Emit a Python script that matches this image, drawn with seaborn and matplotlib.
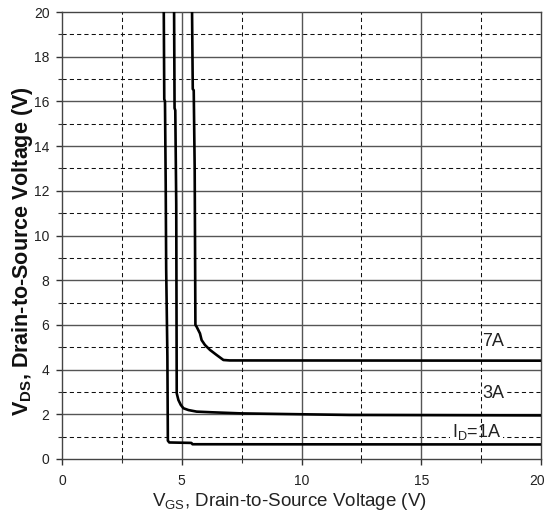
import numpy as np
import pandas as pd
import matplotlib
matplotlib.use("Agg")
import matplotlib.pyplot as plt
import matplotlib.transforms as mtransforms
from matplotlib.ticker import MultipleLocator
import seaborn as sns

# Transfer curves: V_DS versus V_GS for three drain currents
vgs_1a = [4.25, 4.27, 4.30, 4.33, 4.35, 4.40, 4.42, 4.48, 5.40, 5.45, 20.0]
vds_1a = [20.0, 16.1, 16.0, 12.3, 8.5, 4.6, 0.82, 0.74, 0.72, 0.66, 0.65]

vgs_3a = [4.68, 4.70, 4.73, 4.77, 4.79, 4.86, 4.96, 5.07, 5.28, 5.62, 6.25, 7.5, 12.0, 20.0]
vds_3a = [20.0, 15.7, 15.6, 11.4, 2.94, 2.64, 2.42, 2.27, 2.19, 2.12, 2.09, 2.04, 1.97, 1.95]

vgs_7a = [5.43, 5.46, 5.50, 5.54, 5.57, 5.62, 5.76, 5.83, 5.97, 6.18, 6.46, 6.74, 7.0, 20.0]
vds_7a = [20.0, 16.55, 16.5, 13.0, 6.0, 5.92, 5.62, 5.32, 5.1, 4.88, 4.65, 4.43, 4.41, 4.40]

currents = ["1A", "3A", "7A"]
curve_labels = ["I$_\\mathregular{D}$=1A", "3A", "7A"]
label_x = [17.3, 18.0, 18.0]
label_y = [1.22, 2.93, 5.25]

x_ticks = [0, 5, 10, 15, 20]
y_ticks = [0, 2, 4, 6, 8, 10, 12, 14, 16, 18, 20]

frames = []
for cur, xs, ys in zip(currents, [vgs_1a, vgs_3a, vgs_7a], [vds_1a, vds_3a, vds_7a]):
    frames.append(pd.DataFrame({"Vgs": xs, "Vds": ys, "Id": cur}))
df = pd.concat(frames, ignore_index=True)

sns.set_style("ticks")
plt.rcParams["font.family"] = ["Liberation Sans", "DejaVu Sans"]
plt.rcParams["mathtext.fontset"] = "custom"
plt.rcParams["mathtext.rm"] = "Liberation Sans"
plt.rcParams["mathtext.it"] = "Liberation Sans:italic"
plt.rcParams["mathtext.bf"] = "Liberation Sans:bold"

fig = plt.figure(figsize=(5.46, 5.21), dpi=100)
ax = fig.add_axes([62 / 546, 62 / 521, 479 / 546, 447 / 521])

# grid: solid majors, dashed minors
grid_minor = dict(color="#111111", lw=0.75, linestyle=(0, (4, 3)))
for y in range(2, 20, 2):
    ax.axhline(y, color="#555555", lw=1.0, zorder=1)
for y in range(1, 20, 2):
    ax.axhline(y, zorder=1, **grid_minor)
for x in [5, 10, 15]:
    ax.axvline(x, color="#555555", lw=1.0, zorder=4)
for x in [2.5, 7.5, 12.5, 17.5]:
    ax.axvline(x, zorder=4, **grid_minor)

sns.lineplot(data=df, x="Vgs", y="Vds", units="Id", estimator=None, sort=False,
             color="black", lw=1.9, ax=ax, zorder=5, legend=False)

for txt, lx, ly in zip(curve_labels, label_x, label_y):
    ax.text(lx, ly, txt, fontsize=13, ha="center", va="center", zorder=3,
            color="#222222",
            bbox=dict(boxstyle="square,pad=0.12", fc="white", ec="none"))

ax.set_xlim(0, 20)
ax.set_ylim(0, 20)
ax.set_xticks(x_ticks)
ax.set_yticks(y_ticks)
ax.xaxis.set_minor_locator(MultipleLocator(2.5))
ax.yaxis.set_minor_locator(MultipleLocator(1))
ax.tick_params(axis="both", which="major", direction="out", length=4, width=1,
               color="#333333", labelsize=10, labelcolor="#222222")
ax.tick_params(axis="both", which="minor", direction="out", length=3, width=0.8,
               color="#333333")
ax.tick_params(axis="x", which="major", pad=7)
ax.tick_params(axis="y", which="major", pad=5)

# keep the last x tick label inside the figure
last = ax.get_xticklabels()[-1]
last.set_transform(last.get_transform()
                   + mtransforms.ScaledTranslation(-4 / 100, 0, fig.dpi_scale_trans))

for side in ["left", "bottom", "right", "top"]:
    ax.spines[side].set_visible(True)
    ax.spines[side].set_color("#444444")
    ax.spines[side].set_linewidth(1.0)

ax.set_xlabel("V$_\\mathregular{GS}$, Drain-to-Source Voltage (V)", fontsize=13.5,
              color="#222222")
ax.set_ylabel("V$_\\mathregular{DS}$, Drain-to-Source Voltage (V)", fontsize=15.5,
              fontweight="bold", color="#111111")
ax.xaxis.set_label_coords(0.474, -0.071)
ax.yaxis.set_label_coords(-0.056, 0.465)

fig.savefig("out.png", dpi=100)
